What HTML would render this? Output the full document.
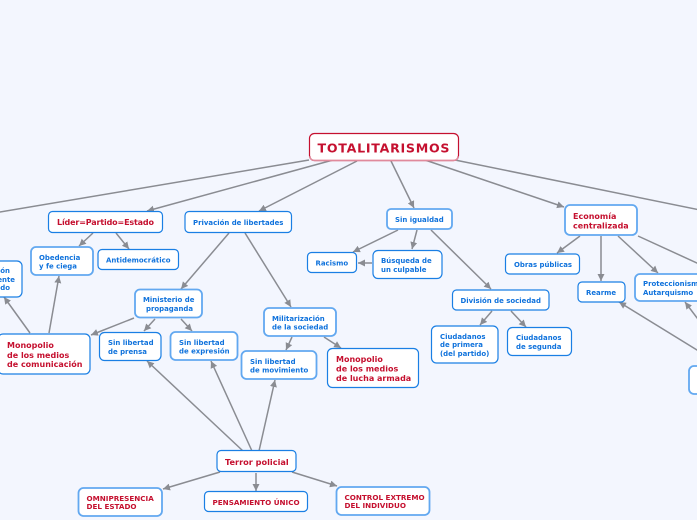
<!DOCTYPE html>
<html><head><meta charset="utf-8">
<style>
html,body{margin:0;padding:0;background:#f3f6fe;width:697px;height:520px;overflow:hidden}
svg{display:block}
text{font-family:"DejaVu Sans","Liberation Sans",sans-serif;font-weight:bold}
.b{fill:#0f72dc;font-size:6.95px}
.r{fill:#c5102f;font-size:7.2px}
.m{fill:#c5102f;font-size:8px}
.n{fill:#fff;stroke:#1a7fe4;stroke-width:1.2}
.l{fill:#fff;stroke:#62a8f0;stroke-width:1.8}
.c{stroke:#8a8c92;stroke-width:1.5;fill:none;marker-end:url(#a)}
</style></head><body>
<svg width="697" height="520" viewBox="0 0 697 520" xmlns="http://www.w3.org/2000/svg">
<defs><marker id="a" markerUnits="userSpaceOnUse" markerWidth="8" markerHeight="8" refX="7" refY="3.5" orient="auto"><path d="M0,0 L7,3.5 L0,7 Z" fill="#8a8c92"/></marker></defs>
<rect width="697" height="520" fill="#f3f6fe"/>
<g>
<path class="c" d="M309,160L-12,214"/>
<path class="c" d="M333,160L147,211"/>
<path class="c" d="M357,161L259,211"/>
<path class="c" d="M391,161L414,208"/>
<path class="c" d="M425,160L564,207"/>
<path class="c" d="M455,160L710,212"/>
<path class="c" d="M93,233L79,246"/>
<path class="c" d="M116,233L129,249"/>
<path class="c" d="M229,233L181,289"/>
<path class="c" d="M245,233L291,307"/>
<path class="c" d="M134,318L91,335"/>
<path class="c" d="M155,319L144,331"/>
<path class="c" d="M181,319L192,331"/>
<path class="c" d="M49,333L59,276"/>
<path class="c" d="M30,333L4,297"/>
<path class="c" d="M243,451L147,361"/>
<path class="c" d="M252,451L211,361"/>
<path class="c" d="M259,451L275,380"/>
<path class="c" d="M220,472L163,489"/>
<path class="c" d="M256,473L256,491"/>
<path class="c" d="M292,472L337,486"/>
<path class="c" d="M292,337L286,350"/>
<path class="c" d="M324,337L341,348"/>
<path class="c" d="M398,230L353,252"/>
<path class="c" d="M417,230L412,249"/>
<path class="c" d="M431,230L491,289"/>
<path class="c" d="M372,263L358,263"/>
<path class="c" d="M492,311L480,325"/>
<path class="c" d="M511,311L526,327"/>
<path class="c" d="M580,236L557,253"/>
<path class="c" d="M601,236L601,281"/>
<path class="c" d="M618,236L658,273"/>
<path class="c" d="M638,236L710,269"/>
<path class="c" d="M710,358L619,302"/>
<path class="c" d="M710,335L685,302"/>
</g>

<rect x="309.500" y="133.500" width="149" height="27" rx="5" fill="#fff" stroke="#c5102f" stroke-width="1.2"/>
<path d="M310,156Q310,160.500 315,160.500L453,160.500Q458,160.500 458,156" fill="none" stroke="#e08a9c" stroke-width="1.4"/>
<text x="317.500" y="152.500" fill="#c5102f" font-size="12.600" textLength="132" lengthAdjust="spacing">TOTALITARISMOS</text>

<rect class="n" x="48.500" y="211.500" width="114" height="21" rx="4"/>
<text class="m" x="57" y="225" textLength="97">Líder=Partido=Estado</text>
<rect class="n" x="185" y="211.500" width="106.500" height="21" rx="4"/>
<text class="b" x="193" y="225">Privación de libertades</text>
<rect class="l" x="387" y="209" width="65" height="20" rx="4"/>
<text class="b" x="395" y="222">Sin igualdad</text>
<rect class="l" x="565" y="205" width="72" height="30" rx="5"/>
<text class="m" x="573" y="219">Economía</text>
<text class="m" x="573" y="228.500">centralizada</text>

<rect class="l" x="31" y="247" width="62" height="28" rx="5"/>
<text class="b" x="39" y="260">Obedencia</text>
<text class="b" x="39" y="268.500">y fe ciega</text>
<rect class="n" x="98" y="249.500" width="80.500" height="20" rx="4"/>
<text class="b" x="106" y="262.500">Antidemocrático</text>
<rect class="n" x="-10" y="261" width="32" height="36" rx="5"/>
<text class="b" x="10" y="273" text-anchor="end">ón</text>
<text class="b" x="15" y="282" text-anchor="end">ente</text>
<text class="b" x="10" y="290" text-anchor="end">do</text>

<rect class="l" x="135" y="289.500" width="67" height="28" rx="5"/>
<text class="b" x="143" y="302">Ministerio de</text>
<text class="b" x="146" y="311">propaganda</text>
<rect class="n" x="-2" y="334" width="92" height="40" rx="5"/>
<text class="m" x="7" y="348">Monopolio</text>
<text class="m" x="7" y="358">de los medios</text>
<text class="m" x="7" y="367">de comunicación</text>
<rect class="n" x="99.500" y="332.500" width="61.500" height="28" rx="5"/>
<text class="b" x="108" y="345">Sin libertad</text>
<text class="b" x="108" y="354">de prensa</text>
<rect class="l" x="170.500" y="332" width="67" height="28" rx="5"/>
<text class="b" x="179" y="345">Sin libertad</text>
<text class="b" x="179" y="353.500">de expresión</text>

<rect class="n" x="307.500" y="252.500" width="49" height="20" rx="4"/>
<text class="b" x="315.500" y="265.500">Racismo</text>
<rect class="n" x="373" y="250.500" width="69" height="28" rx="5"/>
<text class="b" x="381" y="263">Búsqueda de</text>
<text class="b" x="381" y="272">un culpable</text>
<rect class="l" x="264" y="308" width="72" height="28" rx="5"/>
<text class="b" x="272" y="321">Militarización</text>
<text class="b" x="272" y="329.500">de la sociedad</text>
<rect class="l" x="241.500" y="351" width="75" height="28" rx="5"/>
<text class="b" x="250" y="364">Sin libertad</text>
<text class="b" x="250" y="372.500">de movimiento</text>
<rect class="n" x="327.500" y="348.500" width="91" height="39" rx="5"/>
<text class="m" x="336" y="362">Monopolio</text>
<text class="m" x="336" y="371.500">de los medios</text>
<text class="m" x="336" y="381">de lucha armada</text>

<rect class="n" x="452.500" y="290" width="96.500" height="20" rx="4"/>
<text class="b" x="460.500" y="303">División de sociedad</text>
<rect class="n" x="431.500" y="326" width="66.500" height="37" rx="5"/>
<text class="b" x="440" y="339">Ciudadanos</text>
<text class="b" x="440" y="347">de primera</text>
<text class="b" x="440" y="356">(del partido)</text>
<rect class="n" x="507.500" y="327.500" width="64" height="28" rx="5"/>
<text class="b" x="516" y="340">Ciudadanos</text>
<text class="b" x="516" y="349">de segunda</text>

<rect class="n" x="505.500" y="254" width="74" height="20" rx="4"/>
<text class="b" x="514" y="267">Obras públicas</text>
<rect class="n" x="578" y="282" width="47" height="20" rx="4"/>
<text class="b" x="586" y="295">Rearme</text>
<rect class="l" x="635" y="274" width="72" height="27" rx="5"/>
<text class="b" x="643" y="286">Proteccionismo</text>
<text class="b" x="643" y="295">Autarquismo</text>
<rect class="l" x="689" y="366" width="20" height="28" rx="5"/>

<rect class="n" x="217" y="450.500" width="79" height="21" rx="4"/>
<text x="225" y="465" fill="#c5102f" font-size="8.200">Terror policial</text>
<rect class="l" x="78.500" y="488" width="83.500" height="28" rx="5"/>
<text class="r" x="86.500" y="501">OMNIPRESENCIA</text>
<text class="r" x="86.500" y="509">DEL ESTADO</text>
<rect class="n" x="204.500" y="491.500" width="103" height="20" rx="4"/>
<text class="r" x="212.500" y="505">PENSAMIENTO ÚNICO</text>
<rect class="l" x="336.500" y="487" width="93" height="28" rx="5"/>
<text class="r" x="344.500" y="500">CONTROL EXTREMO</text>
<text class="r" x="344.500" y="508">DEL INDIVIDUO</text>
</svg>
</body></html>
